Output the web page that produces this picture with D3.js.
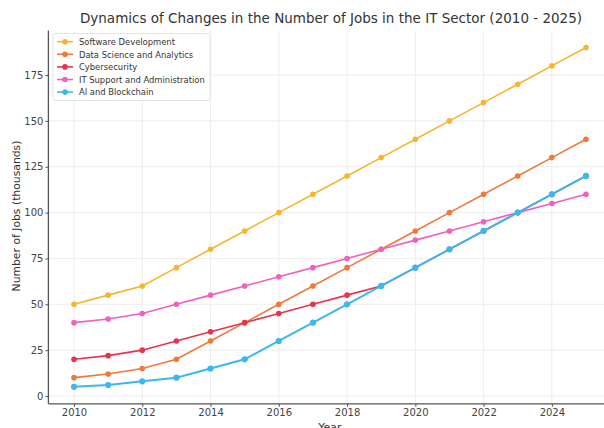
<!DOCTYPE html>
<html><head><meta charset="utf-8">
<script src="https://cdn.jsdelivr.net/npm/d3@7"></script>
<style>body{margin:0;background:#fff;}svg{display:block;font-family:"DejaVu Sans",sans-serif;}</style>
</head><body>
<svg id="c" width="604" height="428"></svg>
<script>
const years = [2010,2011,2012,2013,2014,2015,2016,2017,2018,2019,2020,2021,2022,2023,2024,2025];
const softwareDev = [50,55,60,70,80,90,100,110,120,130,140,150,160,170,180,190];
const dataScience = [10,12,15,20,30,40,50,60,70,80,90,100,110,120,130,140];
const cybersecurity = [20,22,25,30,35,40,45,50,55,60,70,80,90,100,110,120];
const itSupport = [40,42,45,50,55,60,65,70,75,80,85,90,95,100,105,110];
const aiBlockchain = [5,6,8,10,15,20,30,40,50,60,70,80,90,100,110,120];
const seriesNames = ["Software Development","Data Science and Analytics","Cybersecurity","IT Support and Administration","AI and Blockchain"];
const seriesValues = [softwareDev,dataScience,cybersecurity,itSupport,aiBlockchain];
const seriesColors = ["#f6b52d","#f0783a","#e6344f","#f25fbe","#3cb8ec"];
const xTicks = [2010,2012,2014,2016,2018,2020,2022,2024];
const yTicks = [0,25,50,75,100,125,150,175];

const svg = d3.select("#c");
const L = 48.4, R = 611.6, T = 30.6, B = 403.8;
const x = d3.scaleLinear().domain([2009.25,2025.75]).range([L,R]);
const y = d3.scaleLinear().domain([-4.25,199.25]).range([B,T]);

// grid
svg.append("g").selectAll("line").data(xTicks).join("line")
  .attr("x1",d=>x(d)).attr("x2",d=>x(d)).attr("y1",T).attr("y2",B)
  .attr("stroke","#e9e9e9").attr("stroke-width",0.8);
svg.append("g").selectAll("line").data(yTicks).join("line")
  .attr("x1",L).attr("x2",R).attr("y1",d=>y(d)).attr("y2",d=>y(d))
  .attr("stroke","#e9e9e9").attr("stroke-width",0.8);

// axes
const xAxis = svg.append("g").attr("transform",`translate(0,${B})`)
  .call(d3.axisBottom(x).tickValues(xTicks).tickFormat(d3.format("d")).tickSize(3).tickPadding(1.8));
const yAxis = svg.append("g").attr("transform",`translate(${L},0)`)
  .call(d3.axisLeft(y).tickValues(yTicks).tickSize(3).tickPadding(2));
[xAxis,yAxis].forEach(a=>{
  a.select(".domain").attr("stroke","#555").attr("stroke-width",1.3);
  a.selectAll(".tick line").attr("stroke","#555").attr("stroke-width",1);
  a.selectAll(".tick text").attr("fill","#444").style("font-size","10px").style("font-family","DejaVu Sans");
});
yAxis.select(".domain").attr("d",`M0,${B}V${T}`);
xAxis.select(".domain").attr("d",`M${L},0H${R}`);

// lines
const line = d3.line().x((d,i)=>x(years[i])).y(d=>y(d));
seriesValues.forEach((vals,k)=>{
  const last = k === seriesValues.length - 1;
  const g = svg.append("g");
  g.append("path").datum(vals).attr("d",line).attr("fill","none")
    .attr("stroke",seriesColors[k]).attr("stroke-width",last ? 2.0 : 1.6);
  g.selectAll("circle").data(vals).join("circle")
    .attr("cx",(d,i)=>x(years[i])).attr("cy",d=>y(d)).attr("r",last ? 3.1 : 2.8)
    .attr("fill",seriesColors[k]);
});

// title and labels
svg.append("text").attr("x",331).attr("y",23).attr("text-anchor","middle")
  .attr("fill","#333").style("font-size","13.5px").text("Dynamics of Changes in the Number of Jobs in the IT Sector (2010 - 2025)");
svg.append("text").attr("transform","translate(20,216) rotate(-90)").attr("text-anchor","middle")
  .attr("fill","#333").style("font-size","10.8px").text("Number of Jobs (thousands)");
svg.append("text").attr("x",330).attr("y",431).attr("text-anchor","middle")
  .attr("fill","#333").style("font-size","11px").text("Year");

// legend
const lg = svg.append("g");
lg.append("rect").attr("x",53).attr("y",33.5).attr("width",157).attr("height",67).attr("rx",2)
  .attr("fill","#fff").attr("fill-opacity",0.85).attr("stroke","#ddd").attr("stroke-width",0.8);
seriesNames.forEach((n,k)=>{
  const yy = 41.7 + k*12.6;
  lg.append("line").attr("x1",57).attr("x2",73).attr("y1",yy).attr("y2",yy)
    .attr("stroke",seriesColors[k]).attr("stroke-width",1.6);
  lg.append("circle").attr("cx",65).attr("cy",yy).attr("r",2.8).attr("fill",seriesColors[k]);
  lg.append("text").attr("x",79).attr("y",yy+3.2).attr("fill","#333")
    .style("font-size","8.4px").text(n);
});
</script>
</body></html>
